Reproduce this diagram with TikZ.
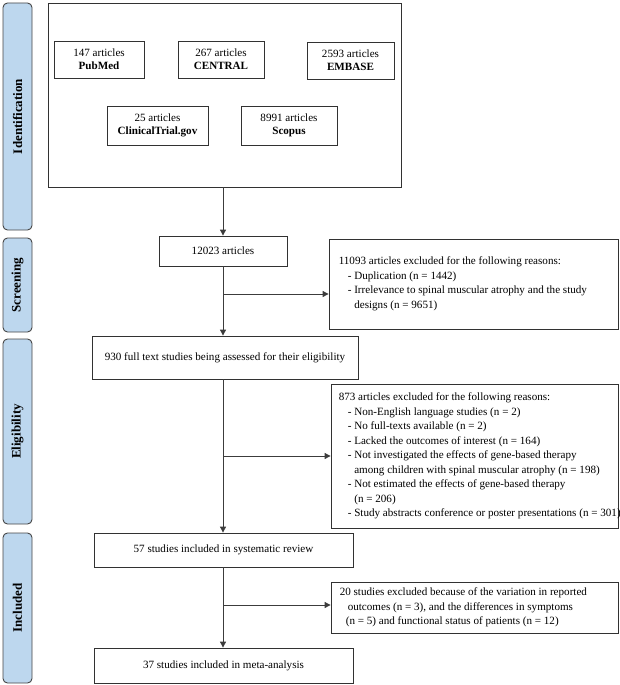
\documentclass[tikz,border=0pt]{standalone}
\usepackage{fontspec}
\setmainfont{Liberation Serif}
\usetikzlibrary{arrows.meta,calc}
\definecolor{barfill}{RGB}{189,215,238}
\definecolor{barline}{RGB}{70,70,70}
\definecolor{boxline}{RGB}{50,50,50}
\definecolor{arrline}{RGB}{60,60,60}
\begin{document}
\begin{tikzpicture}[x=1pt,y=-1pt,
  fnt/.style={font=\fontsize{11.1}{14.5}\selectfont},
  bar/.style={draw=barline,line width=0.9pt,fill=barfill,rounded corners=4.5pt,minimum width=29pt,inner sep=0pt,font=\fontsize{13}{14}\selectfont\bfseries},
  box/.style={draw=boxline,line width=0.8pt,fill=white,inner sep=0pt,fnt,align=center},
  txt/.style={inner sep=0pt,fnt,align=left,anchor=west},
  arr/.style={draw=arrline,line width=0.9pt,-{Triangle[length=6pt,width=6pt]}}]
\useasboundingbox (0,0) rectangle (620,685);
% stage bars
\node[bar,minimum height=227pt] (b1) at (17.5,116.5) {\rotatebox{90}{Identification}};
\node[bar,minimum height=94pt] (b2) at (17.5,285) {\rotatebox{90}{Screening}};
\node[bar,minimum height=185pt] (b3) at (17.5,431.5) {\rotatebox{90}{Eligibility}};
\node[bar,minimum height=150pt] (b4) at (17.5,608) {\rotatebox{90}{Included}};
% identification
\node[box,minimum width=353pt,minimum height=184pt] (id) at (224.5,95) {};
\node[box,minimum width=90pt,minimum height=37pt] (pm) at (99,59.5) {147 articles\\[-1.5pt]\textbf{PubMed}};
\node[box,minimum width=86pt,minimum height=37pt] (ce) at (221,59.5) {267 articles\\[-1.5pt]\textbf{CENTRAL}};
\node[box,minimum width=87pt,minimum height=37pt] (em) at (350.5,60.5) {2593 articles\\[-1.5pt]\textbf{EMBASE}};
\node[box,minimum width=101pt,minimum height=39pt] (ct) at (157.5,125.5) {25 articles\\[-1.5pt]\textbf{ClinicalTrial.gov}};
\node[box,minimum width=96pt,minimum height=39pt] (sc) at (289,125.5) {8991 articles\\[-1.5pt]\textbf{Scopus}};
% main column
\node[box,minimum width=128pt,minimum height=30pt] (n1) at (223,251) {12023 articles};
\node[box,minimum width=266pt,minimum height=43pt] (n2) at (225,357.5) {930 full text studies being assessed for their eligibility};
\node[box,minimum width=259pt,minimum height=34pt] (n3) at (223.5,550) {57 studies included in systematic review};
\node[box,minimum width=259pt,minimum height=35pt] (n4) at (223.5,665.5) {37 studies included in meta-analysis};
% exclusion boxes
\node[box,minimum width=289pt,minimum height=90pt] (e1) at (473.5,284) {};
\node[box,minimum width=287pt,minimum height=144pt] (e2) at (474.5,456) {};
\node[box,minimum width=287pt,minimum height=51pt] (e3) at (474.5,607.5) {};
\node[txt] (t1) at ([xshift=10pt]e1.west) {11093 articles excluded for the following reasons:\\
\hspace*{9pt}- Duplication (n = 1442)\\
\hspace*{9pt}- Irrelevance to spinal muscular atrophy and the study\\
\hspace*{15.5pt}designs (n = 9651)};
\node[txt] (t2) at ([xshift=8pt]e2.west) {873 articles excluded for the following reasons:\\
\hspace*{9pt}- Non-English language studies (n = 2)\\
\hspace*{9pt}- No full-texts available (n = 2)\\
\hspace*{9pt}- Lacked the outcomes of interest (n = 164)\\
\hspace*{9pt}- Not investigated the effects of gene-based therapy\\
\hspace*{15.5pt}among children with spinal muscular atrophy (n = 198)\\
\hspace*{9pt}- Not estimated the effects of gene-based therapy\\
\hspace*{15.5pt}(n = 206)\\
\hspace*{9pt}- Study abstracts conference or poster presentations (n = 301)};
\node[txt] (t3) at ([xshift=9pt]e3.west) {20 studies excluded because of the variation in reported\\
\hspace*{8pt}outcomes (n = 3), and the differences in symptoms\\
\hspace*{6pt}(n = 5) and functional status of patients (n = 12)};
% connectors
\draw[arr] (id.south -| n1) -- (n1.north);
\draw[arr] (n1.south) -- (n1.south |- n2.north);
\draw[arr] (n2.south -| n1) -- (n1 |- n3.north);
\draw[arr] (n3.south -| n1) -- (n1 |- n4.north);
\coordinate (j1) at (223,294);
\coordinate (j2) at (223,456);
\coordinate (j3) at (223,605);
\draw[arr] (j1) -- (j1 -| e1.west);
\draw[arr] (j2) -- (j2 -| e2.west);
\draw[arr] (j3) -- (j3 -| e3.west);
\end{tikzpicture}
\end{document}
